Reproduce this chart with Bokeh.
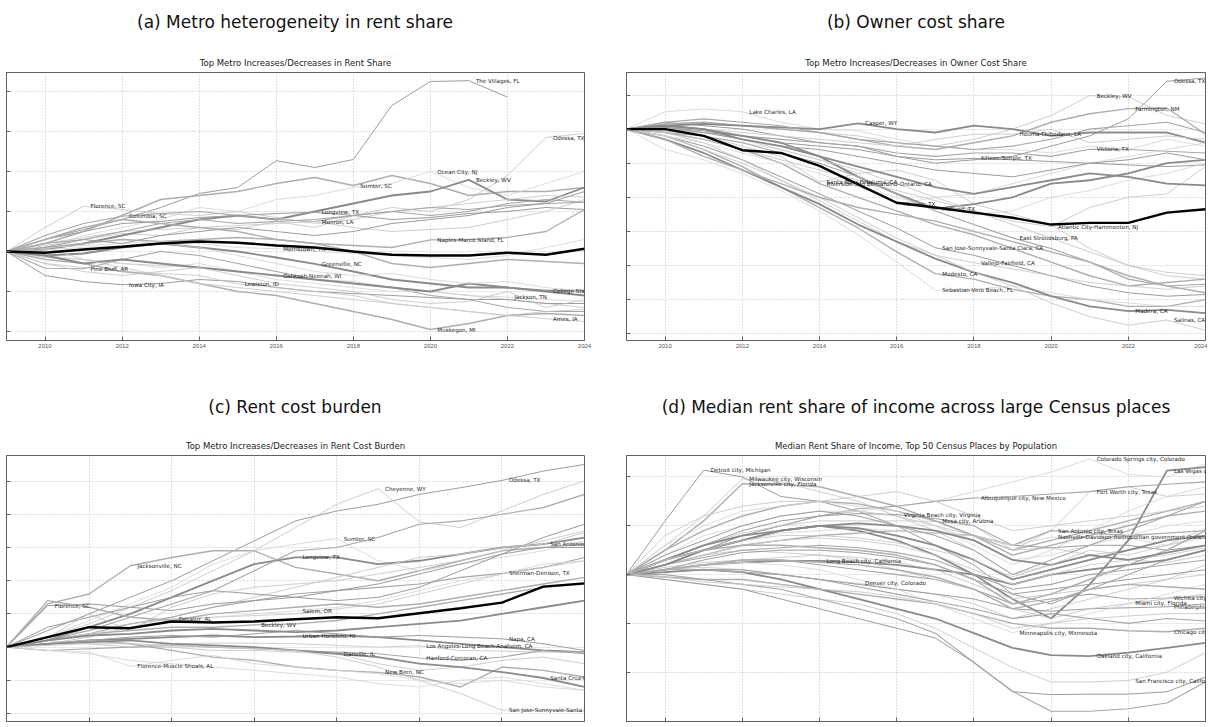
import numpy as np
from bokeh.plotting import figure
from bokeh.models import FixedTicker, Div, Range1d
from bokeh.layouts import column, row
from bokeh.embed import file_html
from bokeh.resources import INLINE
from bokeh.core.properties import value

nan = float("nan")

# ---------------- panel (a): rent share ----------------
A_YEARS = list(range(2009, 2025))
A_MEDIAN = [0, -0.03, 0.05, 0.12, 0.2, 0.25, 0.22, 0.15, 0.1, 0.0, -0.08, -0.1, -0.1, -0.03, -0.08, 0.07]
A_NAMES = ["The Villages, FL", "Odessa, TX", "Sumter, SC", "Ocean City, NJ", "Beckley, WV",
           "Florence, SC", "Columbia, SC", "Longview, TX", "Monroe, LA", "Naples-Marco Island, FL",
           "Morristown, TN", "Greenville, NC", "Oshkosh-Neenah, WI", "Pine Bluff, AR", "Iowa City, IA",
           "Lewiston, ID", "Muskegon, MI", "Jackson, TN", "College Station-Bryan, TX", "Ames, IA"]
A_LABEL_YEARS = [2021, 2023, 2018, 2020, 2021, 2011, 2012, 2017, 2017, 2020,
                 2016, 2017, 2016, 2011, 2012, 2015, 2020, 2022, 2023, 2023]
A_SERIES = [
    [0, 0.3, 0.55, 0.8, 1.1, 1.45, 1.6, 2.27, 2.1, 2.3, 3.65, 4.25, 4.27, 3.86, nan, nan],
    [0, 0.15, 0.3, 0.45, 0.4, 0.6, 0.55, 0.75, 0.6, 0.9, 1.1, 1.0, 1.3, 1.9, 2.85, 2.95],
    [0, 0.2, 0.5, 0.9, 1.3, 1.4, 1.5, 1.7, 1.85, 1.65, 1.9, 1.7, 1.4, 1.5, 1.5, 1.6],
    [0, 0.1, 0.4, 0.6, 0.8, 1.1, 1.0, 1.3, 1.4, 1.6, 1.7, 2.0, 1.6, 1.4, 1.7, 2.0],
    [0, 0.05, 0.2, 0.4, 0.6, 0.8, 0.9, 0.8, 1.0, 1.2, 1.4, 1.5, 1.79, 1.3, 1.25, 1.6],
    [0, 0.6, 1.13, 1.05, 0.95, 0.9, 1.0, 0.85, 0.7, 0.8, 1.0, 1.1, 1.2, 1.3, 1.4, 1.36],
    [0, 0.4, 0.7, 0.88, 0.95, 1.0, 0.9, 0.8, 0.75, 0.9, 1.0, 1.1, 1.05, 1.15, 1.2, 1.23],
    [0, 0.3, 0.5, 0.7, 0.75, 0.85, 0.9, 0.95, 0.98, 0.9, 0.8, 0.85, 0.95, 1.0, 1.1, 1.05],
    [0, 0.2, 0.35, 0.5, 0.55, 0.6, 0.65, 0.7, 0.75, 0.6, 0.5, 0.55, 0.6, 0.8, 1.0, 1.3],
    [0, 0.1, 0.2, 0.3, 0.25, 0.3, 0.35, 0.3, 0.2, 0.15, 0.1, 0.29, 0.3, 0.35, 0.5, 1.05],
    [0, 0.1, 0.15, 0.2, 0.25, 0.2, 0.1, 0.07, 0.0, -0.05, -0.1, -0.15, -0.2, -0.1, 0.1, 0.3],
    [0, -0.1, -0.05, 0.1, 0.2, 0.1, 0.0, -0.15, -0.31, -0.5, -0.7, -0.8, -0.9, -0.9, -1.0, -1.1],
    [0, -0.15, -0.2, -0.3, -0.35, -0.4, -0.5, -0.6, -0.7, -0.75, -0.9, -1.0, -1.1, -1.2, -1.3, -1.4],
    [0, -0.42, -0.43, -0.2, 0.0, -0.1, -0.3, -0.5, -0.7, -0.8, -0.9, -1.1, -1.2, -1.4, -1.5, -1.5],
    [0, -0.6, -0.75, -0.83, -0.8, -0.7, -0.75, -0.9, -1.0, -1.05, -1.1, -1.15, -1.2, -1.2, -1.3, -1.3],
    [0, -0.3, -0.4, -0.5, -0.55, -0.6, -0.81, -0.9, -1.0, -1.1, -1.3, -1.4, -1.5, -1.6, -1.5, -1.45],
    [0, -0.2, -0.3, -0.5, -0.6, -0.8, -1.0, -1.1, -1.3, -1.5, -1.7, -1.95, -1.8, -1.6, -1.55, -1.6],
    [0, -0.1, -0.2, -0.3, -0.4, -0.3, -0.5, -0.7, -0.8, -0.9, -1.0, -1.0, -1.1, -1.14, -1.2, -1.25],
    [0, -0.1, -0.3, -0.2, -0.3, -0.4, -0.5, -0.6, -0.7, -0.8, -0.9, -1.0, -0.8, -0.9, -0.98, -0.98],
    [0, 0.1, -0.2, -0.4, -0.6, -0.8, -0.9, -1.0, -1.1, -1.2, -1.3, -1.4, -1.5, -1.6, -1.68, -1.75],
    [0, 0.2, 0.3, 0.5, 0.7, 0.8, 0.7, 0.75, 0.8, 0.9, 1.0, 0.9, 1.0, 1.2, 1.3, 1.23],
    [0, 0.1, 0.3, 0.2, 0.4, 0.5, 0.6, 0.5, 0.4, 0.5, 0.7, 0.8, 0.9, 1.1, 1.2, 1.5],
    [0, -0.3, -0.5, -0.6, -0.5, -0.4, -0.6, -0.8, -0.9, -1.0, -1.2, -1.3, -1.25, -1.0, -1.4, -1.2],
    [0, 0.3, 0.6, 0.8, 0.7, 0.6, 0.5, 0.3, 0.2, 0.0, -0.3, -0.4, -0.3, -0.2, -0.25, -0.3],
    [0, 0.05, 0.1, 0.15, 0.2, 0.1, -0.1, -0.3, -0.5, -0.6, -0.55, -0.7, -0.8, -0.75, -0.9, -1.0],
]

# ---------------- panel (b): owner cost share ----------------
B_YEARS = list(range(2009, 2025))
B_MEDIAN = [0, 0, -0.2, -0.62, -0.7, -1.08, -1.62, -2.16, -2.3, -2.45, -2.6, -2.8, -2.75, -2.75, -2.45, -2.35]
B_NAMES = ["Odessa, TX", "Beckley, WV", "Farmington, NM", "Lake Charles, LA", "Casper, WY",
           "Houma-Thibodaux, LA", "Victoria, TX", "Killeen-Temple, TX", "Santa Rosa-Petaluma, CA",
           "Riverside-San Bernardino-Ontario, CA", "Abilene, TX", "Midland, TX",
           "Atlantic City-Hammonton, NJ", "East Stroudsburg, PA", "San Jose-Sunnyvale-Santa Clara, CA",
           "Vallejo-Fairfield, CA", "Modesto, CA", "Sebastian-Vero Beach, FL", "Madera, CA", "Salinas, CA"]
B_LABEL_YEARS = [2023, 2021, 2022, 2012, 2015, 2019, 2021, 2018, 2014, 2014,
                 2016, 2017, 2020, 2019, 2017, 2018, 2017, 2017, 2022, 2023]
B_SERIES = [
    [0, 0.2, 0.1, 0, -0.2, -0.4, -0.5, -0.8, -1.0, -0.9, -0.8, -0.5, -0.2, 0.3, 1.4, 1.5],
    [0, 0.1, 0.2, 0.1, 0, -0.1, -0.2, -0.4, -0.5, -0.3, 0, 0.4, 0.98, 0.95, 0.4, 0.15],
    [0, 0.15, 0.2, 0.1, 0, -0.1, -0.3, -0.5, -0.6, -0.4, -0.2, 0.2, 0.45, 0.6, 0.62, -0.15],
    [0, 0.51, 0.59, 0.51, 0.2, 0.0, -0.05, -0.3, -0.5, -0.6, -0.6, -0.7, -0.5, -0.6, -0.3, -0.5],
    [0, 0.1, 0.15, 0.1, 0.05, 0.0, 0.17, 0.0, -0.1, 0.1, 0.0, -0.2, -0.1, -0.1, -0.1, -0.4],
    [0, 0.05, 0.0, -0.1, -0.2, -0.3, -0.4, -0.5, -0.3, -0.15, -0.15, 0.0, -0.4, -0.3, -0.2, -0.3],
    [0, 0.0, -0.1, -0.2, -0.3, -0.4, -0.5, -0.7, -0.8, -0.7, -0.7, -0.8, -0.59, -0.6, -0.65, -0.7],
    [0, 0.05, -0.05, -0.2, -0.4, -0.5, -0.6, -0.8, -0.9, -0.86, -0.9, -0.95, -1.0, -1.05, -1.1, -1.05],
    [0, -0.05, -0.2, -0.5, -0.8, -1.55, -1.3, -1.2, -1.5, -2.2, -2.5, -2.8, -3.5, -4.0, -4.3, -4.4],
    [0, -0.1, -0.3, -0.6, -1.0, -1.6, -2.0, -2.4, -2.8, -3.1, -3.5, -3.9, -4.3, -4.6, -4.5, -4.4],
    [0, 0.0, -0.2, -0.4, -0.6, -0.9, -1.3, -2.2, -2.0, -1.9, -1.6, -1.3, -1.0, -0.8, -0.6, -0.4],
    [0, 0.1, 0.0, -0.2, -0.4, -0.8, -1.4, -1.9, -2.33, -2.2, -2.0, -1.6, -1.5, -1.3, -1.0, -0.9],
    [0, -0.05, -0.1, -0.3, -0.6, -0.9, -1.2, -1.6, -2.0, -2.4, -2.7, -2.86, -2.3, -2.0, -1.9, -1.1],
    [0, -0.1, -0.2, -0.4, -0.7, -1.0, -1.4, -1.9, -2.4, -2.8, -3.19, -3.5, -3.9, -4.4, -4.6, -4.55],
    [0, -0.2, -0.5, -0.9, -1.4, -1.9, -2.4, -2.9, -3.48, -3.7, -4.0, -4.3, -4.6, -4.8, -4.9, -4.85],
    [0, -0.1, -0.4, -0.9, -1.5, -2.1, -2.7, -3.3, -3.7, -3.92, -4.1, -4.3, -4.5, -4.6, -4.7, -4.6],
    [0, -0.2, -0.6, -1.1, -1.7, -2.3, -2.9, -3.6, -4.24, -4.4, -4.7, -4.9, -5.0, -5.2, -5.2, -5.0],
    [0, -0.6, -0.9, -1.3, -1.8, -2.4, -3.1, -3.9, -4.73, -4.7, -4.6, -4.8, -5.0, -5.1, -5.2, -5.2],
    [0, -0.3, -0.7, -1.2, -1.7, -2.2, -2.8, -3.3, -3.8, -4.2, -4.5, -4.9, -5.2, -5.34, -5.3, -5.4],
    [0, -0.2, -0.6, -1.0, -1.5, -2.0, -2.6, -3.2, -3.7, -4.2, -4.6, -5.1, -5.5, -5.75, -5.6, -5.9],
    [0, 0.2, 0.3, 0.2, 0.1, -0.1, -0.3, -0.4, -0.5, -0.6, -0.5, -0.3, 0.0, 0.1, 0.2, -0.1],
    [0, 0.05, -0.1, -0.3, -0.5, -0.6, -0.8, -1.0, -1.2, -1.3, -1.4, -1.2, -1.0, -0.9, -0.7, -0.9],
    [0, -0.1, -0.3, -0.6, -0.9, -1.2, -1.5, -1.8, -2.1, -2.4, -2.8, -3.2, -3.6, -4.0, -4.2, -4.3],
    [0, -0.3, -0.8, -1.2, -1.6, -2.0, -2.3, -2.5, -2.7, -3.0, -3.3, -3.6, -3.9, -4.3, -4.6, -4.8],
    [0, -0.2, -0.4, -0.7, -1.0, -1.3, -1.7, -2.0, -2.3, -2.5, -2.4, -2.0, -1.8, -1.5, -1.3, -1.0],
    [0, 0.1, 0.0, -0.3, -0.5, -0.8, -1.1, -1.4, -1.7, -1.9, -1.7, -1.5, -1.3, -1.4, -1.6, -1.65],
]

# ---------------- panel (c): rent cost burden ----------------
C_YEARS = list(range(2010, 2025))
C_MEDIAN = [0, 0.3, 0.6, 0.57, 0.77, 0.74, 0.77, 0.84, 0.9, 0.87, 1.02, 1.17, 1.34, 1.82, 1.92]
C_NAMES = ["Odessa, TX", "Cheyenne, WY", "Jacksonville, NC", "Sumter, SC", "Longview, TX",
           "San Antonio-New Braunfels, TX", "Sherman-Denison, TX", "Florence, SC", "Decatur, AL",
           "Beckley, WV", "Salem, OR", "Urban Honolulu, HI", "Los Angeles-Long Beach-Anaheim, CA",
           "Hanford-Corcoran, CA", "Napa, CA", "Danville, IL", "New Bern, NC",
           "Florence-Muscle Shoals, AL", "Santa Cruz-Watsonville, CA", "San Jose-Sunnyvale-Santa Clara, CA"]
C_LABEL_YEARS = [2022, 2019, 2013, 2018, 2017, 2023, 2022, 2011, 2014, 2016,
                 2017, 2017, 2020, 2020, 2022, 2018, 2019, 2013, 2023, 2022]
C_SERIES = [
    [0, 0.5, 1.0, 1.5, 2.0, 2.6, 3.2, 3.8, 4.1, 4.3, 4.6, 4.8, 5.02, 5.3, 5.5],
    [0, 0.3, 0.7, 1.2, 1.7, 2.3, 2.9, 3.6, 4.3, 4.77, 3.77, 3.6, 4.1, 4.6, 5.0],
    [0, 1.3, 1.6, 2.45, 2.7, 2.9, 2.9, 2.4, 2.2, 2.0, 2.3, 2.6, 2.9, 3.0, 3.1],
    [0, 0.3, 0.8, 1.3, 1.8, 2.5, 2.9, 3.1, 3.27, 2.6, 2.3, 2.5, 2.7, 2.9, 3.2],
    [0, 0.2, 0.6, 1.0, 1.5, 2.0, 2.5, 2.7, 2.7, 2.5, 2.6, 2.8, 3.0, 3.1, 3.3],
    [0, 0.1, 0.3, 0.6, 0.9, 1.2, 1.5, 1.8, 2.1, 2.4, 2.7, 2.8, 3.0, 3.1, 3.45],
    [0, 0.2, 0.4, 0.7, 0.9, 1.2, 1.4, 1.6, 1.7, 1.8, 1.9, 2.1, 2.22, 2.4, 2.7],
    [0, 1.25, 1.3, 1.2, 1.1, 1.3, 1.4, 1.5, 1.7, 1.9, 2.2, 2.5, 2.8, 3.0, 3.0],
    [0, 0.3, 0.5, 0.7, 0.85, 0.9, 0.95, 1.0, 1.15, 1.3, 1.6, 1.9, 2.2, 2.4, 2.6],
    [0, 0.2, 0.4, 0.5, 0.6, 0.6, 0.67, 0.7, 0.8, 1.0, 1.2, 1.4, 1.6, 1.8, 1.9],
    [0, 0.2, 0.4, 0.6, 0.8, 0.9, 1.0, 1.09, 1.2, 1.4, 1.7, 2.0, 2.2, 2.5, 2.6],
    [0, 0.1, 0.2, 0.25, 0.3, 0.35, 0.3, 0.32, 0.35, 0.3, 0.2, 0.1, 0.0, -0.1, -0.15],
    [nan, nan, nan, 0.0, 0.1, 0.12, 0.12, 0.1, 0.05, 0.0, 0.04, -0.1, -0.12, -0.15, -0.15],
    [0, -0.1, -0.05, 0.0, 0.05, 0.0, -0.05, -0.1, -0.15, -0.2, -0.33, -0.4, -0.3, -0.1, -0.2],
    [0, 0.1, 0.2, 0.3, 0.35, 0.3, 0.4, 0.5, 0.4, 0.3, 0.35, 0.3, 0.25, 0.1, -0.1],
    [0, 0.2, 0.1, 0.0, 0.0, -0.1, -0.1, -0.15, -0.2, -0.5, -0.7, -0.6, -0.4, -0.3, -0.5],
    [0, 0.1, 0.2, 0.1, -0.1, -0.3, -0.4, -0.6, -0.7, -0.76, -0.9, -1.2, -0.6, -0.7, -0.9],
    [0, -0.1, -0.15, -0.58, -0.4, -0.25, -0.5, -0.6, -0.7, -0.8, -1.0, -1.1, -1.0, -1.2, -1.3],
    [0, 0.1, 0.15, 0.2, 0.1, 0.05, 0.0, -0.1, -0.2, -0.3, -0.5, -0.6, -0.75, -0.93, -1.2],
    [0, 0.05, 0.1, 0.1, 0.05, 0.0, -0.05, -0.1, -0.3, -0.6, -1.0, -1.4, -1.9, -1.9, -1.93],
    [0, 0.2, 0.5, 0.9, 1.3, 1.7, 2.3, 2.9, 3.0, 3.3, 3.7, 3.8, 4.0, 4.2, 4.6],
    [0, 0.6, 0.9, 1.2, 1.5, 1.7, 1.6, 1.5, 1.4, 1.5, 1.8, 2.3, 2.8, 3.3, 3.7],
    [0, 0.3, 1.0, 0.5, 1.2, 1.6, 1.8, 1.9, 2.0, 2.2, 2.4, 2.6, 2.9, 3.2, 3.5],
    [0, 1.4, 1.2, 0.9, 0.8, 1.0, 1.1, 1.2, 1.3, 1.2, 1.3, 1.5, 1.7, 1.9, 2.1],
    [0, -0.1, -0.2, -0.4, -0.5, -0.6, -0.7, -0.8, -0.9, -1.1, -1.2, -1.0, -0.9, -1.1, -1.3],
    [0, 0.2, 0.35, 0.4, 0.5, 0.55, 0.5, 0.45, 0.5, 0.6, 0.7, 0.8, 1.0, 1.2, 1.4],
]

# ---------------- panel (d): median rent share, top 50 places ----------------
D_YEARS = list(range(2009, 2025))
D_NAMES = ["Detroit city, Michigan", "Milwaukee city, Wisconsin", "Jacksonville city, Florida",
           "Colorado Springs city, Colorado", "Las Vegas city, Nevada", "Fort Worth city, Texas",
           "Albuquerque city, New Mexico", "Virginia Beach city, Virginia", "Mesa city, Arizona",
           "San Antonio city, Texas",
           "Nashville-Davidson metropolitan government (balance), Tennessee",
           "Long Beach city, California", "Denver city, Colorado", "Wichita city, Kansas",
           "Philadelphia city, Pennsylvania", "Miami city, Florida", "Chicago city, Illinois",
           "Minneapolis city, Minnesota", "Oakland city, California", "San Francisco city, California"]
D_LABEL_YEARS = [2011, 2012, 2012, 2021, 2023, 2021, 2018, 2016, 2017, 2020,
                 2020, 2014, 2015, 2023, 2023, 2022, 2023, 2019, 2021, 2022]
D_SERIES = [
    [0, 1.1, 2.14, 2.0, 1.6, 1.5, 1.3, 1.0, 0.6, 0.2, -0.4, -0.6, -0.3, 0.0, 0.3, 0.5],
    [0, 0.6, 1.2, 1.96, 1.9, 1.7, 1.5, 1.2, 0.9, 0.5, 0.0, 0.2, 0.4, 0.5, 0.6, 0.8],
    [0, 0.5, 1.1, 1.86, 1.85, 1.8, 1.6, 1.4, 1.1, 0.8, 0.5, 0.7, 0.9, 1.1, 1.3, 1.5],
    [0, 0.3, 0.6, 0.8, 1.0, 1.2, 1.3, 1.4, 1.5, 1.7, 1.9, 2.1, 2.37, 2.05, 2.0, 2.27],
    [0, 0.3, 0.5, 0.7, 0.9, 1.0, 0.9, 0.7, 0.4, 0.0, -0.5, -0.9, -0.2, 0.7, 2.13, 2.2],
    [0, 0.2, 0.5, 0.8, 1.0, 1.2, 1.3, 1.2, 1.0, 0.8, 0.5, 0.9, 1.7, 1.8, 1.6, 1.65],
    [0, 0.2, 0.5, 0.8, 1.0, 1.2, 1.35, 1.4, 1.5, 1.57, 1.6, 1.65, 1.7, 1.8, 1.85, 1.9],
    [0, 0.3, 0.6, 0.9, 1.1, 1.2, 1.25, 1.23, 1.15, 1.0, 0.6, 0.55, 0.6, 0.6, 0.5, 0.6],
    [0, 0.3, 0.6, 0.85, 1.0, 1.1, 1.1, 1.1, 1.09, 1.0, 0.5, 0.55, 0.4, 0.3, 0.25, 0.4],
    [0, 0.2, 0.4, 0.6, 0.7, 0.8, 0.85, 0.9, 0.85, 0.8, 0.6, 0.9, 0.85, 0.8, 0.85, 0.9],
    [0, 0.3, 0.5, 0.7, 0.85, 0.9, 0.95, 0.9, 0.85, 0.8, 0.6, 0.77, 0.75, 0.75, 0.6, 0.75],
    [0, 0.1, 0.2, 0.25, 0.28, 0.28, 0.25, 0.2, 0.1, 0.0, -0.2, 0.0, 0.1, 0.2, 0.3, 0.5],
    [0, 0.1, 0.15, 0.1, 0.0, -0.1, -0.18, -0.3, -0.4, -0.6, -0.9, -0.7, -0.5, -0.3, -0.1, 0.2],
    [0, 0.1, 0.2, 0.3, 0.3, 0.2, 0.1, 0.0, -0.1, -0.3, -0.6, -0.5, -0.4, -0.5, -0.48, -0.45],
    [0, 0.05, 0.1, 0.1, 0.0, -0.1, -0.2, -0.3, -0.4, -0.5, -0.7, -0.75, -0.7, -0.68, -0.66, -0.6],
    [0, 0.2, 0.4, 0.5, 0.45, 0.4, 0.3, 0.1, -0.1, -0.3, -0.7, -0.9, -0.7, -0.59, -0.5, -0.4],
    [0, -0.05, -0.1, -0.1, -0.2, -0.3, -0.4, -0.5, -0.6, -0.8, -1.0, -1.1, -1.1, -1.15, -1.17, -1.1],
    [0, 0.1, 0.2, 0.25, 0.2, 0.1, -0.1, -0.3, -0.6, -0.9, -1.19, -1.0, -0.8, -0.6, -0.4, -0.2],
    [0, 0.05, 0.1, 0.05, -0.1, -0.3, -0.5, -0.7, -0.9, -1.2, -1.5, -1.65, -1.67, -1.6, -1.5, -1.4],
    [0, -0.1, -0.2, -0.3, -0.4, -0.5, -0.6, -0.8, -1.1, -1.5, -1.9, -2.2, -2.2, -2.17, -2.0, -1.6],
    [0, 0.0, -0.1, -0.2, -0.3, -0.5, -0.7, -0.9, -1.2, -1.8, -2.39, -2.8, -2.8, -2.75, -2.63, -2.2],
    [0, -0.1, -0.2, -0.3, -0.5, -0.7, -0.9, -1.1, -1.3, -1.8, -2.4, -2.46, -2.45, -2.45, -2.4, -2.1],
    [0, 0.8, 1.2, 1.4, 1.5, 1.5, 1.6, 1.7, 1.5, 1.2, 0.9, 1.0, 1.1, 1.2, 1.3, 1.4],
    [0, 0.5, 0.9, 1.2, 1.4, 1.5, 1.45, 1.3, 1.1, 0.8, 0.4, 0.6, 0.8, 1.0, 1.2, 1.3],
    [0, 0.4, 0.8, 1.0, 1.2, 1.3, 1.3, 1.2, 1.0, 0.7, 0.3, 0.4, 0.6, 0.8, 1.0, 1.1],
    [0, 0.3, 0.6, 0.8, 0.9, 1.0, 0.95, 0.8, 0.6, 0.3, -0.1, 0.1, 0.3, 0.5, 0.7, 0.8],
    [0, 0.2, 0.4, 0.6, 0.7, 0.75, 0.7, 0.6, 0.4, 0.1, -0.2, 0.0, 0.2, 0.3, 0.4, 0.55],
    [0, 0.2, 0.35, 0.5, 0.55, 0.6, 0.55, 0.45, 0.3, 0.0, -0.3, -0.2, 0.0, 0.1, 0.2, 0.3],
    [0, 0.1, 0.3, 0.45, 0.5, 0.5, 0.45, 0.35, 0.2, -0.1, -0.4, -0.3, -0.2, -0.1, 0.0, 0.1],
    [0, 0.15, 0.25, 0.3, 0.35, 0.4, 0.35, 0.25, 0.1, -0.2, -0.5, -0.4, -0.3, -0.2, -0.1, 0.0],
    [0, 0.3, 0.5, 0.6, 0.6, 0.55, 0.5, 0.4, 0.2, -0.1, -0.6, -0.4, -0.1, 0.2, 0.5, 0.9],
    [0, 0.6, 1.0, 1.3, 1.4, 1.5, 1.4, 1.3, 1.0, 0.6, 0.2, 0.5, 0.9, 1.3, 1.6, 1.8],
    [0, 0.2, 0.5, 0.7, 0.9, 1.0, 1.05, 1.0, 0.9, 0.7, 0.3, 0.2, 0.4, 0.3, 0.45, 0.6],
    [0, -0.05, -0.15, -0.2, -0.25, -0.3, -0.35, -0.45, -0.6, -0.8, -1.1, -1.0, -0.9, -0.85, -0.8, -0.8],
    [0, 0.1, 0.1, 0.05, 0.0, -0.1, -0.25, -0.4, -0.55, -0.7, -0.9, -0.8, -0.9, -1.0, -0.9, -0.95],
    [0, 0.4, 0.7, 1.0, 1.2, 1.3, 1.2, 1.0, 0.8, 0.5, 0.0, 0.3, 0.6, 0.9, 1.2, 1.5],
    [0, 0.3, 0.5, 0.7, 0.8, 0.8, 0.75, 0.65, 0.5, 0.3, -0.05, 0.2, 0.5, 0.4, 0.6, 0.95],
    [0, 0.1, 0.2, 0.3, 0.3, 0.25, 0.2, 0.1, -0.05, -0.3, -0.7, -0.55, -0.3, -0.2, -0.25, -0.3],
]

HEADINGS = ["(a) Metro heterogeneity in rent share", "(b) Owner cost share",
            "(c) Rent cost burden", "(d) Median rent share of income across large Census places"]
TITLES = ["Top Metro Increases/Decreases in Rent Share",
          "Top Metro Increases/Decreases in Owner Cost Share",
          "Top Metro Increases/Decreases in Rent Cost Burden",
          "Median Rent Share of Income, Top 50 Census Places by Population"]

FONT = "DejaVu Sans"
GREYS = ["#9c9c9c", "#c2c2c2", "#aeaeae", "#d3d3d3", "#8a8a8a", "#c8c8c8", "#a6a6a6"]
WIDTHS = [1.0, 0.8, 1.4, 0.8, 1.8, 0.9, 1.1]


def panel(years, series, median, names, label_years, yticks, ylo, yhi, xticks, title,
          w, h, mb_left, mb_right, mb_top, mb_bottom, show_x):
    p = figure(width=w, height=h, output_backend="svg", toolbar_location=None,
               x_range=Range1d(years[0], years[-1]), y_range=Range1d(ylo, yhi),
               min_border_left=mb_left, min_border_right=mb_right, min_border_top=mb_top,
               min_border_bottom=mb_bottom, title=title)
    p.title.align = "center"
    p.title.text_font = FONT
    p.title.text_font_size = "8.5px"
    p.title.text_font_style = "normal"
    p.title.text_color = "#222222"
    xs = np.array(years, dtype=float)
    for k, s in enumerate(series):
        p.line(xs, np.array(s, dtype=float), line_color=GREYS[k % len(GREYS)],
               line_width=WIDTHS[k % len(WIDTHS)])
    if median is not None:
        p.line(xs, np.array(median, dtype=float), line_color="black", line_width=2.4)
    lx, ly, lt = [], [], []
    for k, (nm, yr) in enumerate(zip(names, label_years)):
        j = years.index(yr)
        lx.append(yr)
        ly.append(series[k][j])
        lt.append(nm)
    p.text(x=lx, y=ly, text=lt, x_offset=7, text_baseline="middle", text_align="left",
           text_font=value(FONT), text_font_size="5.6px", text_color="#1e1e1e")
    p.xaxis.ticker = FixedTicker(ticks=xticks)
    p.yaxis.ticker = FixedTicker(ticks=yticks)
    for ax in p.axis:
        ax.major_tick_in = 4
        ax.major_tick_out = 0
        ax.minor_tick_line_color = None
        ax.axis_line_color = "#606060"
        ax.major_tick_line_color = "#606060"
    p.yaxis.major_label_overrides = {t: "" for t in yticks}
    p.yaxis.major_label_standoff = 0
    if show_x:
        p.xaxis.major_label_text_font_size = "6px"
        p.xaxis.major_label_text_color = "#555555"
        p.xaxis.major_label_standoff = 3
    else:
        p.xaxis.major_label_overrides = {t: "" for t in xticks}
        p.xaxis.major_label_standoff = 0
    p.grid.grid_line_color = "#b0b0b0"
    p.grid.grid_line_dash = "1 2"
    p.grid.grid_line_width = 0.8
    p.outline_line_color = "#606060"
    p.background_fill_color = "white"
    p.border_fill_color = "white"
    return p


def heading(txt, w, h, inner_w):
    html = ('<div style="width:%dpx;height:%dpx;display:flex;justify-content:center;'
            'align-items:center;font-family:\'DejaVu Sans\';font-size:17px;color:#111;'
            'white-space:nowrap;">%s</div>' % (inner_w, h, txt))
    return Div(text=html, width=w, height=h, margin=0)


XT16 = list(range(2010, 2025, 2))
XT15 = list(range(2012, 2025, 2))

pa = panel(A_YEARS, A_SERIES, A_MEDIAN, A_NAMES, A_LABEL_YEARS, [-2, -1, 0, 1, 2, 3, 4],
           -2.225, 4.475, XT16, TITLES[0], 626, 341, 6, 42, 28, 45, True)
pb = panel(B_YEARS, B_SERIES, B_MEDIAN, B_NAMES, B_LABEL_YEARS, [1, 0, -1, -2, -3, -4, -5, -6],
           -6.2, 1.66, XT16, TITLES[1], 581, 341, 0, 2, 28, 45, True)
pc = panel(C_YEARS, C_SERIES, C_MEDIAN, C_NAMES, C_LABEL_YEARS, [-2, -1, 0, 1, 2, 3, 4, 5],
           -2.24, 5.77, XT15, TITLES[2], 626, 294, 6, 42, 26, 2, False)
pd_ = panel(D_YEARS, D_SERIES, None, D_NAMES, D_LABEL_YEARS, [-3, -2, -1, 0, 1, 2],
            -3.01, 2.44, XT16, TITLES[3], 581, 294, 0, 2, 26, 2, False)

layout = column(
    row(heading(HEADINGS[0], 626, 44, 590), heading(HEADINGS[1], 581, 44, 580)),
    row(pa, pb),
    row(heading(HEADINGS[2], 626, 44, 590), heading(HEADINGS[3], 581, 44, 580)),
    row(pc, pd_),
)

open("out.html", "w").write(file_html(layout, INLINE))
